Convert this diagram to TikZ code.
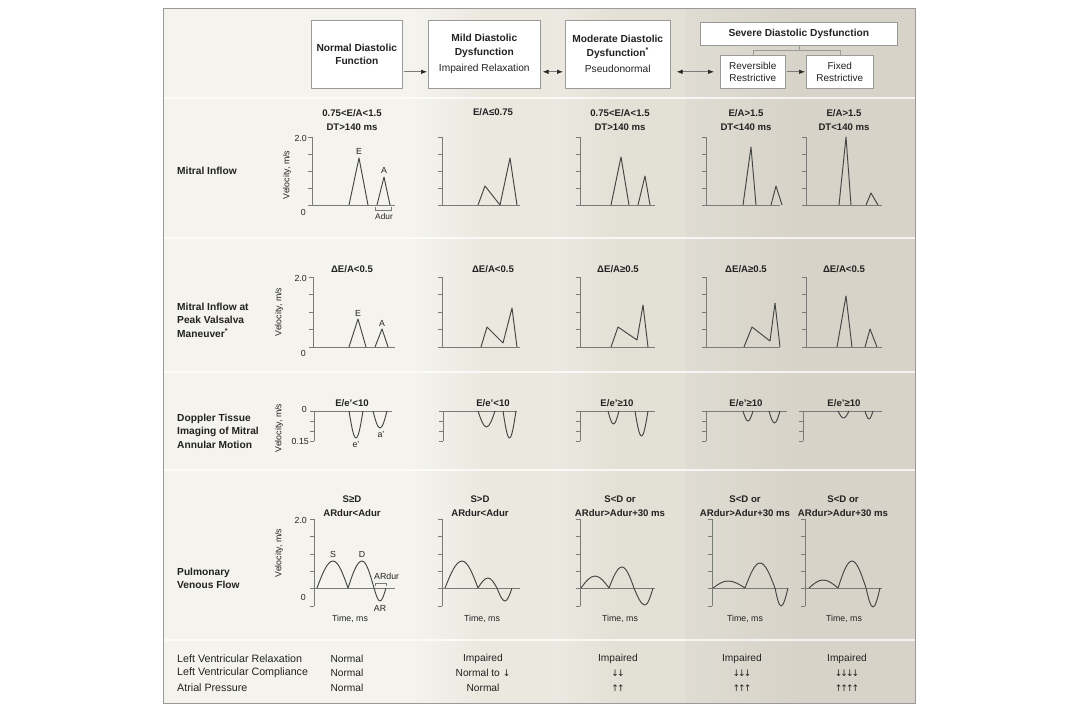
\documentclass[tikz,border=0pt]{standalone}
\usepackage{fontspec}
\setmainfont{Liberation Sans}
\newfontfamily\arrowfont{DejaVu Sans}
\usetikzlibrary{arrows.meta}
\definecolor{bgnorm}{HTML}{F4F3EE}
\definecolor{bgmild}{HTML}{EBE8DF}
\definecolor{bgmod}{HTML}{E3E0D5}
\definecolor{bgsev}{HTML}{D7D3C8}
\definecolor{txt}{HTML}{222222}
\definecolor{frm}{HTML}{9A9A9A}
\definecolor{axc}{HTML}{7A7A7A}
\definecolor{wv}{HTML}{454545}
\newcommand\plotaxes[6]{%
  \draw[axisline] (#1,#2) -- (#1,#3);
  \draw[axisline] (#1,#4) -- (#5,#4);
  \foreach \k in {0,...,#6} \draw[axisline] (#1,{#2+\k*(#3-#2)/#6}) -- ++(-4,0);
}
\begin{document}
\begin{tikzpicture}[x=1pt,y=-1pt,
  hbox/.style={draw=frm, fill=white, line width=0.6pt, align=center, text=txt,
    font=\bfseries\fontsize{10.2}{13.5}\selectfont, inner sep=1pt},
  arr/.style={draw=axc, line width=0.7pt, -{Latex[length=6pt,width=4.5pt,color=black!85]}, shorten >=1pt, shorten <=1pt},
  darr/.style={draw=axc, line width=0.7pt, {Latex[length=6pt,width=4.5pt,color=black!85]}-{Latex[length=6pt,width=4.5pt,color=black!85]}},
  brl/.style={draw=frm, line width=0.6pt},
  axisline/.style={draw=axc, line width=0.6pt},
  wave/.style={draw=wv, line width=0.95pt, line join=round},
  ttl/.style={font=\bfseries\fontsize{9.6}{14}\selectfont, align=center, text=txt, inner sep=0pt},
  lbl/.style={font=\bfseries\fontsize{10.2}{13.5}\selectfont, align=left, anchor=west, text=txt, inner sep=0pt},
  tick/.style={font=\fontsize{8.8}{10}\selectfont, text=txt, inner sep=0pt},
  vel/.style={font=\fontsize{8.8}{10}\selectfont, text=txt, rotate=90, inner sep=0pt},
  ann/.style={font=\fontsize{8.8}{10}\selectfont, text=txt, inner sep=0pt},
  bot/.style={font=\fontsize{10.2}{11}\selectfont, text=txt, inner sep=0pt},
  botl/.style={bot, anchor=west, font=\fontsize{10.7}{11}\selectfont},
  arw/.style={font=\arrowfont\fontsize{9}{10}\selectfont, text=txt, inner sep=0pt}
]
\useasboundingbox (0,0) rectangle (1080,720);
\fill[white] (0,0) rectangle (1080,720);
% column backgrounds
\fill[bgnorm] (163,8) rectangle (415,703);
\shade[left color=bgmild!55!white, right color=bgmild, middle color=bgmild] (415,8) rectangle (553,703);
\shade[left color=bgmod!70!white, right color=bgmod, middle color=bgmod] (553,8) rectangle (685,703);
\shade[left color=bgsev!80!white, right color=bgsev, middle color=bgsev] (685,8) rectangle (915,703);
% row separators
\foreach \yy in {98,238,372,470,640} \draw[white, line width=1.3pt, opacity=0.75] (163,\yy) -- (915,\yy);
\draw[frm, line width=0.7pt] (163,8) rectangle (915,703);

% ===== header =====
\node[hbox, minimum width=91, minimum height=68, anchor=north west] (normal) at (311,20) {Normal Diastolic\\Function};
\node[hbox, minimum width=112, minimum height=68, anchor=north west] (mild) at (428,20) {Mild Diastolic\\Dysfunction\\[3pt]\mdseries Impaired Relaxation};
\node[hbox, minimum width=105, minimum height=68, anchor=north west] (moderate) at (565,20) {Moderate Diastolic\\Dysfunction\textsuperscript{*}\\[3pt]\mdseries Pseudonormal};
\node[hbox, minimum width=197, minimum height=23, anchor=north west] (severe) at (700,22) {Severe Diastolic Dysfunction};
\node[hbox, minimum width=65, minimum height=33, anchor=north west, font=\fontsize{10}{12.5}\selectfont] (reversible) at (720,55) {Reversible\\Restrictive};
\node[hbox, minimum width=67, minimum height=33, anchor=north west, font=\fontsize{10}{12.5}\selectfont] (fixed) at (806,55) {Fixed\\Restrictive};
\coordinate (brk) at (0,50);
\draw[arr] (normal.east |- reversible.west) -- (mild.west |- reversible.west);
\draw[darr, shorten <=2pt, shorten >=2pt] (mild.east |- reversible.west) -- (moderate.west |- reversible.west);
\draw[darr, shorten <=6pt, shorten >=6pt] (moderate.east |- reversible.west) -- (reversible.west);
\draw[arr] (reversible.east) -- (fixed.west);
\draw[brl] (severe.south) -- (severe.south |- brk);
\draw[brl] (reversible.north) -- (reversible.north |- brk) -- (fixed.north |- brk) -- (fixed.north);

% ===== row labels =====
\node[lbl] (l1) at (177,171) {Mitral Inflow};
\node[lbl] (l2) at (177,320) {Mitral Inflow at\\Peak Valsalva\\Maneuver\textsuperscript{*}};
\node[lbl] (l3) at (177,431) {Doppler Tissue\\Imaging of Mitral\\Annular Motion};
\node[lbl] (l4) at (177,578.5) {Pulmonary\\Venous Flow};

% ===== row 1: mitral inflow =====
\node[ttl] (t1a) at (352,120) {0.75<E/A<1.5\\DT>140 ms};
\node[ttl] (t1b) at (493,112) {E/A≤0.75};
\node[ttl] (t1c) at (620,120) {0.75<E/A<1.5\\DT>140 ms};
\node[ttl] (t1d) at (746,120) {E/A>1.5\\DT<140 ms};
\node[ttl] (t1e) at (844,120) {E/A>1.5\\DT<140 ms};
\plotaxes{312}{137}{205}{205}{395}{4}
\plotaxes{442}{137}{205}{205}{520}{4}
\plotaxes{580}{137}{205}{205}{655}{4}
\plotaxes{706}{137}{205}{205}{780}{4}
\plotaxes{806}{137}{205}{205}{882}{4}
\node[tick, anchor=east] (y1a) at (307,138) {2.0};
\node[tick, anchor=east] (y1b) at (306,212) {0};
\node[vel] (v1) at (287,175) {Velocity, m/s};
\draw[wave] (349,205) -- (359,158) -- (368,205);
\draw[wave] (377,205) -- (384,177) -- (390,205);
\node[ann] (e1) at (359,151) {E};
\node[ann] (a1) at (384,170) {A};
\draw[axisline] (375,207) -- (375,210) -- (391,210) -- (391,207);
\node[ann, font=\fontsize{8.3}{9}\selectfont] (adur) at (384,217) {Adur};
\draw[wave] (478,205) -- (485,186) -- (500,205) -- (510,158) -- (517,205);
\draw[wave] (611,205) -- (621,157) -- (629,205);
\draw[wave] (638,205) -- (645,176) -- (650,205);
\draw[wave] (743,205) -- (751,147) -- (756,205);
\draw[wave] (771,205) -- (776,186) -- (782,205);
\draw[wave] (839,205) -- (846,137) -- (851,205);
\draw[wave] (866,205) -- (871,193) -- (878,205);

% ===== row 2: valsalva =====
\node[ttl] (t2a) at (352,269) {ΔE/A<0.5};
\node[ttl] (t2b) at (493,269) {ΔE/A<0.5};
\node[ttl] (t2c) at (618,269) {ΔE/A≥0.5};
\node[ttl] (t2d) at (746,269) {ΔE/A≥0.5};
\node[ttl] (t2e) at (844,269) {ΔE/A<0.5};
\plotaxes{313}{277}{347}{347}{395}{4}
\plotaxes{442}{277}{347}{347}{520}{4}
\plotaxes{580}{277}{347}{347}{655}{4}
\plotaxes{706}{277}{347}{347}{780}{4}
\plotaxes{806}{277}{347}{347}{882}{4}
\node[tick, anchor=east] (y2a) at (307,278) {2.0};
\node[tick, anchor=east] (y2b) at (306,353) {0};
\node[vel] (v2) at (279,312) {Velocity, m/s};
\draw[wave] (349,347) -- (358,319) -- (366,347);
\draw[wave] (375,347) -- (382,329) -- (388,347);
\node[ann] (e2) at (358,313) {E};
\node[ann] (a2) at (382,323) {A};
\draw[wave] (481,347) -- (487,327) -- (503,343) -- (512,308) -- (517,347);
\draw[wave] (611,347) -- (618,327) -- (637,340) -- (643,305) -- (648,347);
\draw[wave] (744,347) -- (752,327) -- (770,341) -- (775,303) -- (780,347);
\draw[wave] (837,347) -- (846,296) -- (852,347);
\draw[wave] (865,347) -- (870,329) -- (877,347);

% ===== row 3: tissue doppler =====
\node[ttl] (t3a) at (352,403) {E/e'<10};
\node[ttl] (t3b) at (493,403) {E/e'<10};
\node[ttl] (t3c) at (617,403) {E/e'≥10};
\node[ttl] (t3d) at (746,403) {E/e'≥10};
\node[ttl] (t3e) at (844,403) {E/e'≥10};
\plotaxes{314}{411}{441}{411}{392}{3}
\plotaxes{443}{411}{441}{411}{517}{3}
\plotaxes{580}{411}{441}{411}{655}{3}
\plotaxes{706}{411}{441}{411}{787}{3}
\plotaxes{803}{411}{441}{411}{882}{3}
\node[tick, anchor=east] (y3a) at (307,409) {0};
\node[tick, anchor=east] (y3b) at (309,441) {0.15};
\node[vel] (v3) at (279,428) {Velocity, m/s};
\draw[wave] (349,411) sin (356,438) cos (363,411);
\draw[wave] (373,411) sin (380,428) cos (387,411);
\node[ann] (ep) at (356,445) {e'};
\node[ann] (ap) at (381,435) {a'};
\draw[wave] (478,411) sin (486.5,427) cos (495,411);
\draw[wave] (503,411) sin (509.5,438) cos (516,411);
\draw[wave] (608,411) sin (613.5,424) cos (619,411);
\draw[wave] (635,411) sin (641.5,436) cos (648,411);
\draw[wave] (743,411) sin (748,421) cos (753,411);
\draw[wave] (769,411) sin (774.5,423) cos (780,411);
\draw[wave] (838,411) sin (843.5,418) cos (849,411);
\draw[wave] (865,411) sin (869,419) cos (873,411);

% ===== row 4: pulmonary venous =====
\node[ttl] (t4a) at (352,506) {S≥D\\ARdur<Adur};
\node[ttl] (t4b) at (480,506) {S>D\\ARdur<Adur};
\node[ttl] (t4c) at (620,506) {S<D or\\ARdur>Adur+30 ms};
\node[ttl] (t4d) at (745,506) {S<D or\\ARdur>Adur+30 ms};
\node[ttl] (t4e) at (843,506) {S<D or\\ARdur>Adur+30 ms};
\plotaxes{314}{519}{606}{588}{395}{5}
\plotaxes{442}{519}{606}{588}{520}{5}
\plotaxes{580}{519}{606}{588}{655}{5}
\plotaxes{712}{519}{606}{588}{788}{5}
\plotaxes{805}{519}{606}{588}{882}{5}
\node[tick, anchor=east] (y4a) at (307,520) {2.0};
\node[tick, anchor=east] (y4b) at (306,597) {0};
\node[vel] (v4) at (279,553) {Velocity, m/s};
\draw[wave] (317,588) sin (333,561) cos (348,588) sin (362,561) cos (374,588) sin (380,601) cos (386,588);
\node[ann] (sl) at (333,554) {S};
\node[ann] (dl) at (362,554) {D};
\node[ann, anchor=west] (ardur) at (374,576) {ARdur};
\draw[axisline] (375,585.5) -- (375,583) -- (386,583) -- (386,585.5);
\node[ann] (arl) at (380,608) {AR};
\draw[wave] (445,588) sin (462,561) cos (478,588) sin (488,578) cos (497,588) sin (505,601) cos (512,588);
\draw[wave] (581,588) sin (595,576) cos (609,588) sin (622,567) cos (634,588) sin (645,605) cos (653,588);
\draw[wave] (713,588) sin (728,581) cos (745,588) sin (760,563) cos (775,588) sin (781,606) cos (788,588);
\draw[wave] (809,588) sin (823,580) cos (838,588) sin (852,561) cos (866,588) sin (873,607) cos (880,588);
\node[ann] (tm1) at (350,619) {Time, ms};
\node[ann] (tm2) at (482,619) {Time, ms};
\node[ann] (tm3) at (620,619) {Time, ms};
\node[ann] (tm4) at (745,619) {Time, ms};
\node[ann] (tm5) at (844,619) {Time, ms};

% ===== row 5 =====
\node[botl] (b1) at (177,659) {Left Ventricular Relaxation};
\node[botl] (b2) at (177,673) {Left Ventricular Compliance};
\node[botl] (b3) at (177,688) {Atrial Pressure};
\node[bot] (n1) at (347,659) {Normal};
\node[bot] (n2) at (347,673) {Normal};
\node[bot] (n3) at (347,688) {Normal};
\node[bot] (m1) at (483,659) {Impaired};
\node[bot] (m2) at (483,673) {Normal to {\arrowfont\fontsize{9}{10}\selectfont ↓}};
\node[bot] (m3) at (483,688) {Normal};
\node[bot] (o1) at (618,659) {Impaired};
\node[arw] (o2) at (618,673) {↓\kern-2pt↓};
\node[arw] (o3) at (618,688) {↑\kern-2pt↑};
\node[bot] (s1) at (742,659) {Impaired};
\node[arw] (s2) at (742,673) {↓\kern-2pt↓\kern-2pt↓};
\node[arw] (s3) at (742,688) {↑\kern-2pt↑\kern-2pt↑};
\node[bot] (f1) at (847,659) {Impaired};
\node[arw] (f2) at (847,673) {↓\kern-2pt↓\kern-2pt↓\kern-2pt↓};
\node[arw] (f3) at (847,688) {↑\kern-2pt↑\kern-2pt↑\kern-2pt↑};
\end{tikzpicture}
\end{document}
